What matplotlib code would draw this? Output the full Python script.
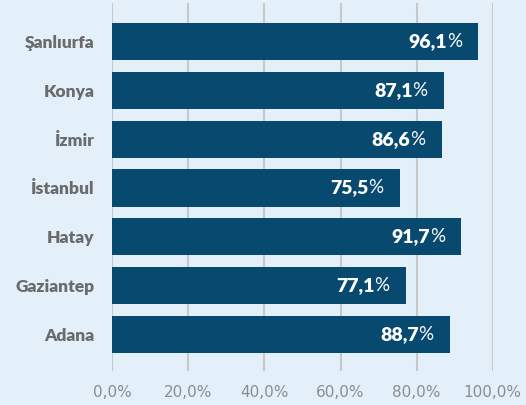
import matplotlib
matplotlib.use("Agg")
import matplotlib.pyplot as plt

cities = ["Şanlıurfa", "Konya", "İzmir", "İstanbul", "Hatay", "Gaziantep", "Adana"]
values = [96.1, 87.1, 86.6, 75.5, 91.7, 77.1, 88.7]
xticks = [0, 20, 40, 60, 80, 100]
xtick_labels = ["0,0%", "20,0%", "40,0%", "60,0%", "80,0%", "100,0%"]

BG = "#e4f0f9"
BAR = "#08496f"
LABEL = "#6b6b6d"
TICK = "#8c8c8c"

fig = plt.figure(figsize=(5.26, 4.05), dpi=100, facecolor=BG)
ax = fig.add_axes([112.3/526, 1-371/405, (492.7-112.3)/526, (371-3)/405])
ax.set_facecolor(BG)

n = len(cities)
ypos = [n - 1 - i for i in range(n)]
ax.barh(ypos, values, height=0.76, color=BAR, zorder=3)

ax.set_xlim(0, 100)
ax.set_ylim(-0.75, n - 1 + 0.79)
ax.set_xticks(xticks)
ax.set_xticklabels(xtick_labels)
for lab in ax.get_xticklabels():
    lab.set_fontfamily("DejaVu Sans")
    lab.set_fontsize(11)
    lab.set_color(TICK)
ax.set_yticks(ypos)
ax.set_yticklabels(cities)
for lab in ax.get_yticklabels():
    lab.set_fontfamily("Lato")
    lab.set_fontweight("heavy")
    lab.set_fontsize(12.5)
    lab.set_color(LABEL)
ax.tick_params(axis="both", length=0)
ax.tick_params(axis="x", pad=10)
ax.tick_params(axis="y", pad=13)
for s in ax.spines.values():
    s.set_visible(False)
ax.grid(axis="x", color="#c8c8c8", linewidth=1.5, zorder=1)
ax.grid(axis="y", visible=False)

for y, v in zip(ypos, values):
    pct = ax.annotate("%", xy=(v, y), xytext=(-16, 0), textcoords="offset pixels",
                      ha="right", va="center", color="white", fontsize=13.5,
                      family="Lato", zorder=4)
    num = f"{v:.1f}".replace(".", ",")
    ax.annotate(num, xy=(0, 0), xycoords=pct,
                ha="right", va="bottom",
                color="white", fontsize=14, family="Lato", fontweight="heavy", zorder=4)

fig.savefig("out.png", dpi=100, facecolor=BG)
